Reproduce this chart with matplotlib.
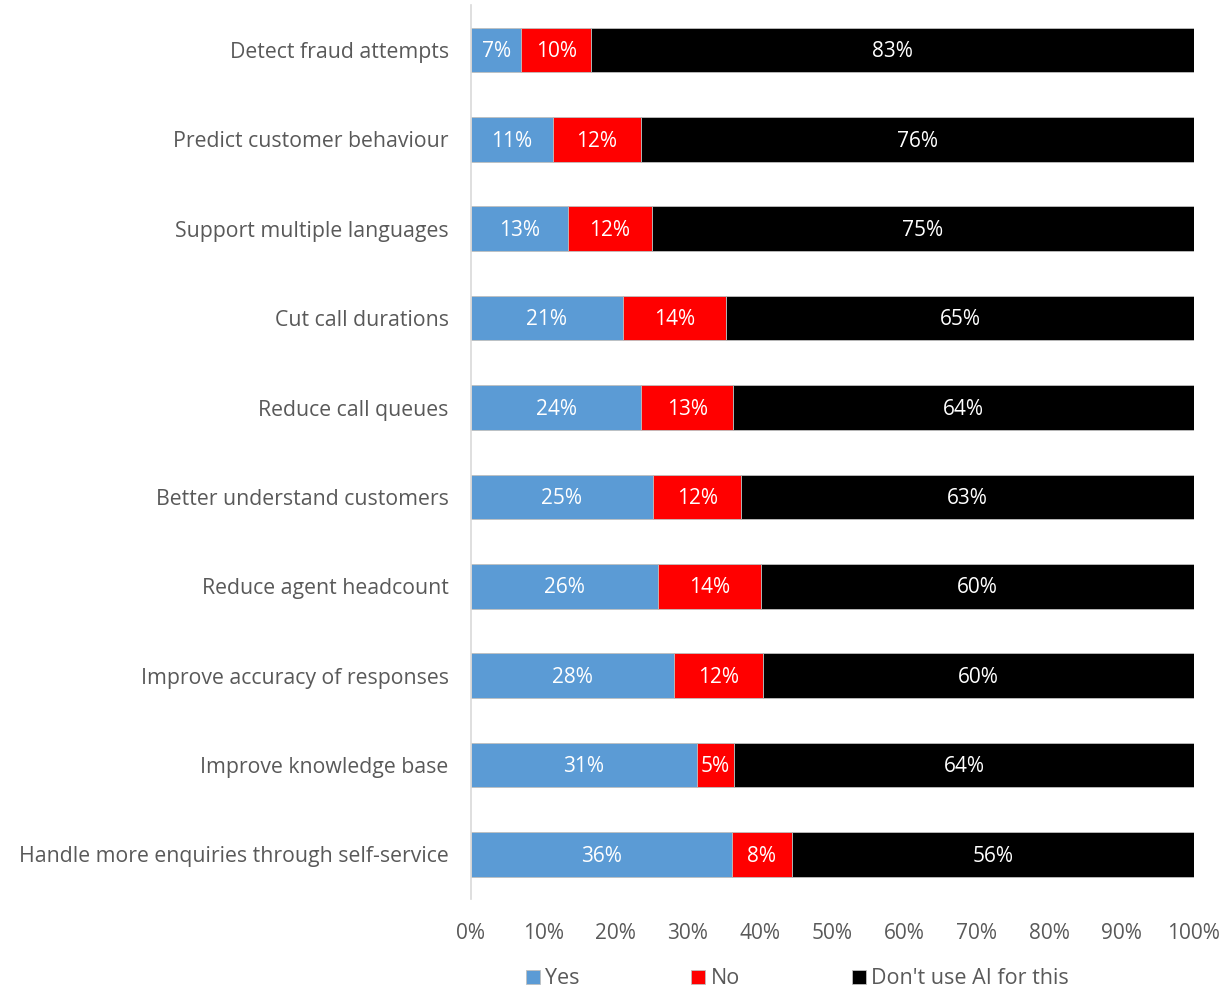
import matplotlib.pyplot as plt
import numpy as np

plt.rcParams['font.family'] = ['Open Sans', 'DejaVu Sans']

# categories, top to bottom
categories = [
    "Detect fraud attempts",
    "Predict customer behaviour",
    "Support multiple languages",
    "Cut call durations",
    "Reduce call queues",
    "Better understand customers",
    "Reduce agent headcount",
    "Improve accuracy of responses",
    "Improve knowledge base",
    "Handle more enquiries through self-service",
]
yes = [7.0, 11.3, 13.4, 21.0, 23.6, 25.2, 25.9, 28.1, 31.3, 36.1]
no = [9.6, 12.3, 11.6, 14.3, 12.7, 12.2, 14.2, 12.3, 5.1, 8.3]
dont = [83.4, 76.4, 75.0, 64.7, 63.7, 62.6, 59.9, 59.6, 63.6, 55.6]

series = [("Yes", yes, "#5b9bd5"), ("No", no, "#ff0000"), ("Don't use AI for this", dont, "#000000")]

fig = plt.figure(figsize=(12.23, 9.9), dpi=100)
ax = fig.add_axes([0.385, 0.092, 0.5912, 0.9025])

y = np.arange(len(categories))
left = np.zeros(len(categories))
for name, vals, col in series:
    vals = np.array(vals)
    ax.barh(y, vals, left=left, height=0.5, color=col, label=name,
            edgecolor="#bfbfbf", linewidth=0.6)
    for yi, l, v in zip(y, left, vals):
        ax.text(l + v / 2, yi + 0.02, f"{round(v):d}%", ha="center", va="center",
                color="white", fontsize=15)
    left += vals

ax.set_ylim(len(categories) - 0.5, -0.5)
ax.set_xlim(0, 100)
ax.set_yticks(y)
ax.set_yticklabels(categories, fontsize=15.3, color="#595959")
ax.set_xticks(np.arange(0, 101, 10))
ax.set_xticklabels([f"{t}%" for t in range(0, 101, 10)], fontsize=15, color="#595959")
ax.tick_params(axis="both", length=0)
ax.tick_params(axis="x", pad=17)
ax.tick_params(axis="y", pad=16)
for s in ["top", "right", "bottom"]:
    ax.spines[s].set_visible(False)
ax.spines["left"].set_color("#d9d9d9")
ax.spines["left"].set_linewidth(1.2)

fig.legend(loc="lower center", bbox_to_anchor=(0.652, -0.019), ncol=3, frameon=False,
           fontsize=15.5, labelcolor="#595959", handlelength=0.65, handleheight=0.65,
           handletextpad=0.25, columnspacing=5.2)

fig.savefig("out.png", dpi=100)
